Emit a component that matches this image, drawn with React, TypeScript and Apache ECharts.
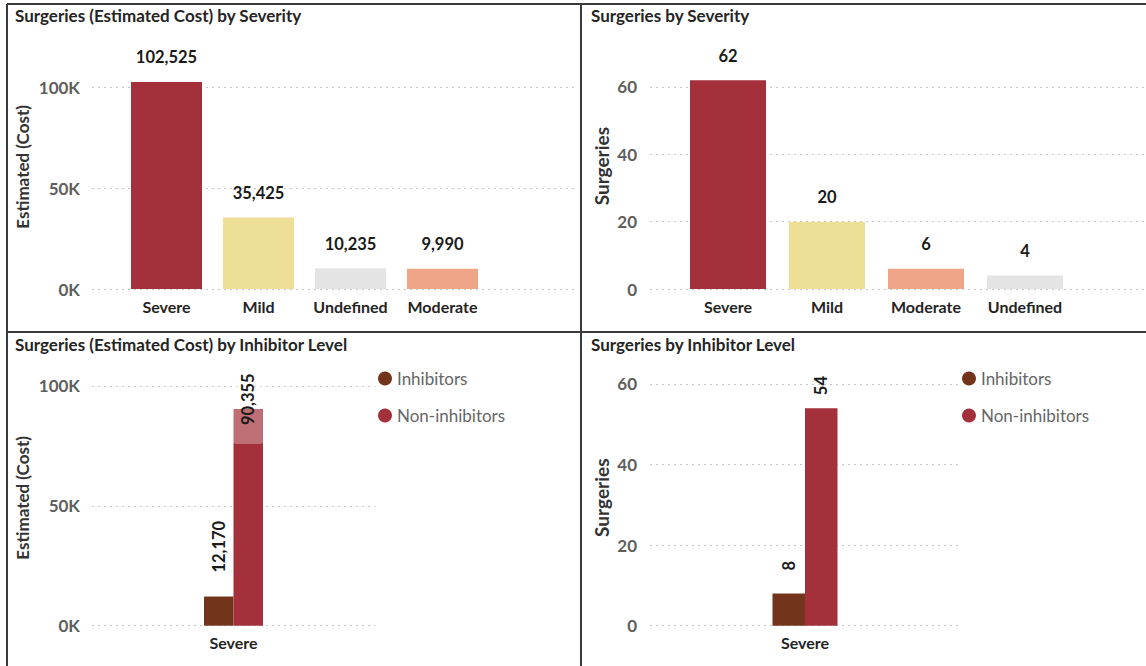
import React, { useEffect, useRef } from "react";
import * as echarts from "echarts";

// ---- data ----
const severityCostCategories = ["Severe", "Mild", "Undefined", "Moderate"];
const severityCostValues = [102525, 35425, 10235, 9990];

const severityCountCategories = ["Severe", "Mild", "Moderate", "Undefined"];
const severityCountValues = [62, 20, 6, 4];

const inhibitorCategories = ["Severe"];
const inhibitorCostValues = [12170];
const nonInhibitorCostValues = [90355];
const inhibitorCountValues = [8];
const nonInhibitorCountValues = [54];

const legendNames = ["Inhibitors", "Non-inhibitors"];

const titles = [
  "Surgeries (Estimated Cost) by Severity",
  "Surgeries by Severity",
  "Surgeries (Estimated Cost) by Inhibitor Level",
  "Surgeries by Inhibitor Level",
];

// ---- styles ----
const FONT = "Lato, 'Noto Sans', sans-serif";
const severityColors: Record<string, string> = {
  Severe: "#A3303A",
  Mild: "#EDE096",
  Undefined: "#E4E4E4",
  Moderate: "#EFA587",
};
const INHIBITOR_COLOR = "#72351C";
const NON_INHIBITOR_COLOR = "#A3303A";

const fmtNum = (v: number) => v.toLocaleString("en-US");
const fmtK = (v: number) => (v % 50000 === 0 ? v / 1000 + "K" : "");
const fmtCount = (v: number) => (v % 20 === 0 ? String(v) : "");

const splitLineStyle = {
  show: true,
  showMaxLine: false,
  lineStyle: { color: "#C8C6C4", type: [2, 4] as any, width: 1 },
};

const valueLabelStyle = {
  show: true,
  showMaxLabel: false,
  fontFamily: FONT,
  fontSize: 17,
  fontWeight: "bold" as const,
  color: "#605E5C",
};

const nameStyle = {
  fontFamily: FONT,
  fontSize: 17,
  fontWeight: "bold" as const,
  color: "#333333",
};

const catLabelStyle = {
  fontFamily: FONT,
  fontSize: 16,
  fontWeight: "bold" as const,
  color: "#252423",
};

const dataLabelBase = {
  show: true,
  fontFamily: FONT,
  fontSize: 16.5,
  fontWeight: "bold" as const,
  color: "#1A1A1A",
};

function buildOption() {
  const grids = [
    // panel 1 background + data
    { left: 92, width: 483, top: 66.8, height: 222.2 },
    { left: 120.5, width: 368, top: 66.8, height: 222.2 },
    // panel 2 background + data
    { left: 650, width: 496, top: 53.3, height: 235.7 },
    { left: 678.5, width: 396, top: 53.3, height: 235.7 },
    // panel 3
    { left: 92, width: 283, top: 362, height: 263.7 },
    // panel 4
    { left: 650, width: 310, top: 343.7, height: 282 },
  ].map((g) => ({ ...g, outerBoundsMode: "none", containLabel: false }));

  const hiddenX = (gi: number) => ({
    type: "category",
    gridIndex: gi,
    data: [""],
    show: false,
  });

  const catX = (gi: number, data: string[], margin: number) => ({
    type: "category",
    gridIndex: gi,
    data,
    axisLine: { show: false },
    axisTick: { show: false },
    axisLabel: { ...catLabelStyle, margin, interval: 0, hideOverlap: false },
    splitLine: { show: false },
  });

  const costY = (gi: number, visible: boolean, namePadding: number[]) => ({
    type: "value",
    gridIndex: gi,
    min: 0,
    max: 110000,
    interval: 50000,
    show: visible,
    name: visible ? "Estimated (Cost)" : "",
    nameLocation: "middle",
    nameGap: 61,
    nameTextStyle: { ...nameStyle, padding: namePadding },
    axisLine: { show: false },
    axisTick: { show: false },
    axisLabel: { ...valueLabelStyle, margin: 12, formatter: fmtK },
    splitLine: visible ? splitLineStyle : { show: false },
  });

  const countY = (gi: number, visible: boolean, namePadding: number[]) => ({
    type: "value",
    gridIndex: gi,
    min: 0,
    max: 70,
    interval: 20,
    show: visible,
    name: visible ? "Surgeries" : "",
    nameLocation: "middle",
    nameGap: 39,
    nameTextStyle: { ...nameStyle, fontSize: 19, padding: namePadding },
    axisLine: { show: false },
    axisTick: { show: false },
    axisLabel: { ...valueLabelStyle, margin: 13, formatter: fmtCount },
    splitLine: visible ? splitLineStyle : { show: false },
  });

  const xAxis = [
    hiddenX(0),
    catX(1, severityCostCategories, 9),
    hiddenX(2),
    catX(3, severityCountCategories, 9),
    catX(4, inhibitorCategories, 9),
    catX(5, inhibitorCategories, 9),
  ];

  const yAxis = [
    costY(0, true, [0, 0, 0, 22]),
    costY(1, false, [0, 0, 0, 0]),
    countY(2, true, [0, 0, 0, 10]),
    countY(3, false, [0, 0, 0, 0]),
    costY(4, true, [0, 8, 0, 0]),
    countY(5, true, [0, 26, 0, 0]),
  ];

  const topLabel = {
    ...dataLabelBase,
    position: "top",
    distance: 16,
    formatter: (p: any) => fmtNum(p.value),
  };

  const rotatedTop = (distance: number) => ({
    ...dataLabelBase,
    position: "top",
    distance,
    rotate: 90,
    align: "left",
    verticalAlign: "middle",
    formatter: (p: any) => fmtNum(p.value),
  });

  const series: any[] = [
    {
      type: "bar",
      name: "Estimated (Cost)",
      xAxisIndex: 1,
      yAxisIndex: 1,
      barWidth: 71,
      data: severityCostCategories.map((c, i) => ({
        value: severityCostValues[i],
        itemStyle: { color: severityColors[c] },
      })),
      label: topLabel,
    },
    {
      type: "bar",
      name: "Surgeries",
      xAxisIndex: 3,
      yAxisIndex: 3,
      barWidth: 76,
      data: severityCountCategories.map((c, i) => ({
        value: severityCountValues[i],
        itemStyle: { color: severityColors[c] },
      })),
      label: topLabel,
    },
    {
      type: "bar",
      name: legendNames[0],
      xAxisIndex: 4,
      yAxisIndex: 4,
      barWidth: 29.5,
      barGap: "0%",
      itemStyle: { color: INHIBITOR_COLOR },
      data: inhibitorCostValues,
      label: rotatedTop(24),
    },
    {
      type: "bar",
      name: legendNames[1],
      xAxisIndex: 4,
      yAxisIndex: 4,
      barWidth: 29.5,
      barGap: "0%",
      itemStyle: { color: NON_INHIBITOR_COLOR },
      data: nonInhibitorCostValues,
      label: {
        ...dataLabelBase,
        position: "insideTop",
        distance: 35,
        rotate: 90,
        align: "left",
        verticalAlign: "middle",
        backgroundColor: "rgba(255,255,255,0.3)",
        padding: [7, 0, 7, 19],
        borderRadius: 4,
        formatter: (p: any) => fmtNum(p.value),
      },
    },
    {
      type: "bar",
      name: legendNames[0],
      xAxisIndex: 5,
      yAxisIndex: 5,
      barWidth: 32.5,
      barGap: "0%",
      itemStyle: { color: INHIBITOR_COLOR },
      data: inhibitorCountValues,
      label: rotatedTop(23),
    },
    {
      type: "bar",
      name: legendNames[1],
      xAxisIndex: 5,
      yAxisIndex: 5,
      barWidth: 32.5,
      barGap: "0%",
      itemStyle: { color: NON_INHIBITOR_COLOR },
      data: nonInhibitorCountValues,
      label: rotatedTop(13),
    },
  ];

  const legendBase = {
    orient: "vertical",
    icon: "circle",
    itemWidth: 14,
    itemHeight: 14,
    itemGap: 20,
    selectedMode: false,
    data: legendNames,
    textStyle: { fontFamily: FONT, fontSize: 17, color: "#666666" },
  };

  const titlePos = [
    { left: 15, top: 7 },
    { left: 591, top: 7 },
    { left: 15, top: 336 },
    { left: 591, top: 336 },
  ];

  const border = { stroke: "#3A3A3A", lineWidth: 2 };

  return {
    animation: false,
    backgroundColor: "#FFFFFF",
    title: titles.map((t, i) => ({
      text: t,
      ...titlePos[i],
      padding: 0,
      textStyle: {
        fontFamily: FONT,
        fontSize: 17,
        fontWeight: "bold",
        color: "#252423",
      },
    })),
    legend: [
      { ...legendBase, left: 373, top: 365 },
      { ...legendBase, left: 957, top: 365 },
    ],
    grid: grids,
    xAxis,
    yAxis,
    series,
    graphic: [
      { type: "line", shape: { x1: 7, y1: 4, x2: 1146, y2: 4 }, style: border, silent: true },
      { type: "line", shape: { x1: 7, y1: 4, x2: 7, y2: 666 }, style: border, silent: true },
      { type: "line", shape: { x1: 581, y1: 4, x2: 581, y2: 666 }, style: border, silent: true },
      { type: "line", shape: { x1: 7, y1: 332, x2: 1146, y2: 332 }, style: border, silent: true },
    ],
  };
}

export default function App() {
  const ref = useRef<HTMLDivElement>(null);
  useEffect(() => {
    if (!ref.current) return;
    const chart = echarts.init(ref.current, undefined, { renderer: "svg" });
    chart.setOption(buildOption() as any);
    return () => chart.dispose();
  }, []);
  return (
    <div
      ref={ref}
      style={{ position: "fixed", left: 0, top: 0, width: 1146, height: 666 }}
    />
  );
}
